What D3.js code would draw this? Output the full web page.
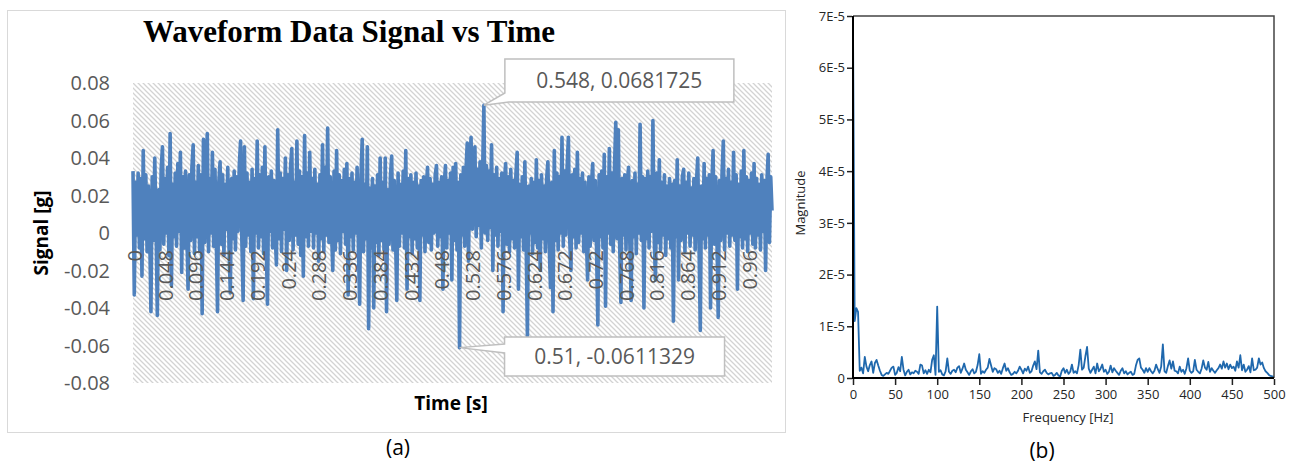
<!DOCTYPE html>
<html>
<head>
<meta charset="utf-8">
<script src="https://cdnjs.cloudflare.com/ajax/libs/d3/7.8.5/d3.min.js"></script>
<style>
  body { margin: 0; background: #fff; }
  svg { display: block; }
</style>
</head>
<body>
<div id="figure"></div>
<script>
// (a) waveform, one value every 2 ms, in milli-g
var sampleStep = 0.002;
var signalMilliG = [
  33,-33,27,-1,32,-8,29,-23,44,-3,31,-10,25,2,-42,30,-4,40,4,-44,
  23,-9,34,46,-6,29,0,35,-12,53,-28,26,-2,32,-7,37,1,43,-21,30,
  -8,33,3,-30,31,-4,35,47,-11,27,-2,36,-9,31,-43,50,-5,32,53,-10,
  29,0,43,-7,34,-1,-42,27,38,-6,31,-12,26,2,35,-8,-32,29,-3,33,
  -9,30,1,36,49,-4,-36,46,-7,32,-1,27,-10,34,-35,29,0,49,-8,31,
  -2,35,-11,46,-5,-38,30,1,33,-8,28,0,-17,55,-3,32,-10,29,2,40,
  -20,31,-4,35,45,-9,27,-1,49,-6,33,-12,30,-23,52,-2,32,-7,43,1,
  29,-8,34,0,26,-15,31,-3,47,-10,35,-1,56,-5,30,2,-20,33,-9,44,
  -4,31,-11,28,1,34,-6,37,-33,29,-2,32,-9,27,0,35,-7,-38,30,50,
  -10,26,-3,46,-51,24,-8,29,-40,25,-5,31,-12,40,-4,27,-9,40,-42,23,
  -6,30,41,-9,28,-1,-36,32,-7,26,0,33,-8,44,-30,29,-2,31,-11,27,
  -3,32,-8,25,-36,28,-1,30,-10,24,35,-5,29,-9,26,0,31,36,-7,27,
  -2,30,-30,25,36,-8,28,0,32,-25,35,-4,37,-9,27,-61.1329,31,-1,35,-7,
  33,48,-15,35,51,2,37,46,-2,34,4,38,-8,32,68.1725,0,36,-4,33,3,
  47,-20,31,-1,35,-7,29,1,32,-42,27,37,-6,30,-10,34,-3,28,-8,31,
  43,-30,26,-2,30,-9,38,-4,-55,25,0,29,-11,27,-5,39,-8,28,-20,31,
  -3,25,-10,29,38,-6,-29,27,-42,44,-4,32,-9,30,0,51,-7,33,-1,35,
  51,-3,-20,31,-2,34,-8,43,-5,29,0,32,-10,27,-1,-25,30,-7,26,37,
  -4,28,-9,-49,31,-2,33,-8,42,-39,30,0,45,-6,32,-10,35,59,-3,55,
  -5,-37,29,-1,31,-9,27,35,-6,-36,28,-2,32,-11,26,0,58,-4,30,-40,
  29,-3,33,-8,30,1,60,-2,-25,32,-5,39,-9,27,-1,31,-12,25,-3,29,
  -8,26,-47,28,-2,39,-25,25,-4,30,34,-10,27,0,32,-7,24,-1,29,-9,
  27,40,-5,-52,25,-3,37,-8,29,-1,31,-40,26,44,-6,30,-2,-45,28,-4,
  32,49,-9,29,0,34,-7,27,-1,43,-4,31,-30,26,-2,33,-8,44,-3,30,
  -10,28,0,32,-6,37,-8,29,-1,26,-9,31,1,28,-20,27,42,-5,30,12
];
var timeTicks = [0,0.048,0.096,0.144,0.192,0.24,0.288,0.336,0.384,0.432,0.48,
                 0.528,0.576,0.624,0.672,0.72,0.768,0.816,0.864,0.912,0.96];
var signalTicks = [-0.08,-0.06,-0.04,-0.02,0,0.02,0.04,0.06,0.08];

// (b) spectrum, one value every 2 Hz, in units of 1E-6
var freqStep = 2;
var magnitudeE6 = [
  68.2,11.0,13.5,12.8,1.4,2.0,0.9,4.1,2.2,1.3,
  2.5,3.2,1.0,2.9,3.5,2.4,1.4,0.6,0.4,0.7,
  1.0,0.8,1.4,2.0,2.2,0.6,1.0,2.1,1.3,4.1,
  1.6,0.5,1.2,1.6,0.7,1.1,0.9,1.4,1.2,0.8,
  2.6,2.4,0.9,1.5,0.8,1.6,1.1,3.5,4.4,0.6,
  13.8,1.2,1.5,0.7,0.5,1.3,3.8,1.2,0.8,1.4,
  1.6,1.1,2.0,2.3,1.0,1.8,2.8,1.6,1.1,0.6,
  1.3,1.7,0.9,1.2,2.5,4.6,0.8,1.3,1.0,1.6,
  2.0,3.7,2.4,1.2,1.9,1.7,1.0,1.4,0.8,1.9,
  2.8,1.4,1.9,1.1,0.6,0.8,1.2,0.9,1.4,2.2,
  1.6,0.9,1.8,1.4,2.2,1.0,1.3,2.4,3.2,1.7,
  5.3,1.1,0.8,1.3,1.6,1.0,0.7,0.9,1.0,0.4,
  0.6,1.0,0.5,0.3,1.4,1.9,1.0,1.6,0.8,1.2,
  2.6,1.0,1.3,0.9,2.5,5.5,1.6,2.0,4.2,6.0,
  1.8,1.0,1.6,2.2,0.9,2.8,1.3,1.8,2.6,1.2,
  1.6,0.8,1.2,2.4,1.1,1.9,1.4,1.0,0.6,1.4,
  1.9,0.9,1.3,0.7,1.0,1.2,0.6,0.8,2.4,3.5,
  3.8,2.0,1.6,1.0,1.9,1.2,1.9,1.3,0.9,1.4,
  2.6,1.7,1.0,2.2,6.5,1.3,1.0,2.3,3.4,1.8,
  3.2,1.4,1.3,0.9,2.2,1.2,1.6,0.8,1.9,3.8,
  1.4,1.0,1.3,3.5,1.6,1.2,0.9,1.8,3.4,2.0,
  1.6,3.1,1.2,1.9,1.4,1.0,1.5,1.9,2.6,1.8,
  3.2,2.0,2.8,1.7,2.6,1.9,2.2,1.4,3.2,2.0,
  4.4,1.5,2.6,1.2,1.6,2.3,1.1,3.8,1.5,1.6,
  2.0,3.8,2.6,3.0,1.9,1.3,1.0,0.6,0.4,0.3,
  0.2
];
var freqTicks = [0,50,100,150,200,250,300,350,400,450,500];
var magnitudeTicks = [0,1e-5,2e-5,3e-5,4e-5,5e-5,6e-5,7e-5];
var magnitudeTickLabels = ["0","1E-5","2E-5","3E-5","4E-5","5E-5","6E-5","7E-5"];

var width = 1292, height = 464;
var greyText = '#595959';

var svg = d3.select('#figure').append('svg')
    .attr('width', width)
    .attr('height', height);

svg.append('rect')
   .attr('width', width).attr('height', height)
   .style('fill', '#fff');

draw_waveform();
draw_spectrum();

function draw_waveform(){
    var g = svg.append('g');
    var signal = signalMilliG.map(function(v, i){ return {t: i * sampleStep, v: v / 1000, i: i}; });

    var xScale = d3.scaleLinear()
        .domain([0, (signal.length - 1) * sampleStep])
        .range([133, 772]);
    var yScale = d3.scaleLinear()
        .domain([-0.08, 0.08])
        .range([383, 83]);

    // chart frame
    g.append('rect')
     .attr('x', 7.5).attr('y', 10.5)
     .attr('width', 778).attr('height', 422)
     .style('fill', '#fff')
     .style('stroke', '#d9d9d9');

    var pattern = svg.append('defs').append('pattern')
        .attr('id', 'hatch')
        .attr('patternUnits', 'userSpaceOnUse')
        .attr('width', 5).attr('height', 5);
    pattern.append('path')
        .attr('d', 'M0,0 L5,5 M-1,4 L1,6 M4,-1 L6,1')
        .style('stroke', '#d3d3d3')
        .style('stroke-width', 1.3);

    g.append('rect')
     .attr('x', xScale.range()[0])
     .attr('y', yScale(0.08))
     .attr('width', xScale.range()[1] - xScale.range()[0])
     .attr('height', yScale(-0.08) - yScale(0.08))
     .style('fill', 'url(#hatch)');

    var line = d3.line()
        .x(function(d){ return xScale(d.t); })
        .y(function(d){ return yScale(d.v); });

    g.append('path')
     .datum(signal)
     .attr('d', line)
     .style('fill', 'none')
     .style('stroke', '#4f81bd')
     .style('stroke-width', 3.6)
     .style('stroke-linejoin', 'round');

    // y tick labels
    g.selectAll('.ylab').data(signalTicks).enter().append('text')
     .attr('x', 110)
     .attr('y', function(d){ return yScale(d); })
     .attr('dy', '0.35em')
     .attr('text-anchor', 'end')
     .style('font-family', 'Open Sans')
     .style('font-size', '20px')
     .style('fill', greyText)
     .text(function(d){ return d === 0 ? '0' : d.toFixed(2); });

    // x tick labels, rotated, hung from the zero line
    g.selectAll('.xlab').data(timeTicks).enter().append('text')
     .attr('transform', function(d){ return 'translate(' + (xScale(d) + 2) + ',250) rotate(-90)'; })
     .attr('dy', '0.35em')
     .attr('text-anchor', 'end')
     .style('font-family', 'Open Sans')
     .style('font-size', '20px')
     .style('fill', greyText)
     .text(function(d){ return String(d); });

    g.append('text')
     .attr('x', 349).attr('y', 42)
     .attr('text-anchor', 'middle')
     .style('font-family', 'Liberation Serif')
     .style('font-weight', 'bold')
     .style('font-size', '31px')
     .style('fill', '#000')
     .text('Waveform Data Signal vs Time');

    g.append('text')
     .attr('transform', 'translate(48,233) rotate(-90)')
     .attr('text-anchor', 'middle')
     .style('font-family', 'Open Sans')
     .style('font-weight', 'bold')
     .style('font-size', '19px')
     .text('Signal [g]');

    g.append('text')
     .attr('x', 451).attr('y', 410)
     .attr('text-anchor', 'middle')
     .style('font-family', 'Open Sans')
     .style('font-weight', 'bold')
     .style('font-size', '19px')
     .text('Time [s]');

    // data callouts on the extremes
    var top = d3.greatest(signal, function(d){ return d.v; });
    var bottom = d3.least(signal, function(d){ return d.v; });

    var tx = xScale(top.t), ty = yScale(top.v);
    var bx = tx + 21;
    g.append('path')
     .attr('d', 'M' + bx + ',59 H' + (bx + 229) + ' V102 H' + (bx + 4) + ' L' + tx + ',' + ty + ' L' + bx + ',93 Z')
     .style('fill', '#fff')
     .style('stroke', '#bfbfbf')
     .style('stroke-width', 1.5);
    g.append('text')
     .attr('x', bx + 114.5).attr('y', 80.5)
     .attr('dy', '0.35em')
     .attr('text-anchor', 'middle')
     .style('font-family', 'Open Sans')
     .style('font-size', '21px')
     .style('fill', greyText)
     .text(callout_text(top));

    tx = xScale(bottom.t); ty = yScale(bottom.v);
    bx = tx + 45;
    g.append('path')
     .attr('d', 'M' + bx + ',337 H' + (bx + 220) + ' V376 H' + bx + ' V353 L' + tx + ',' + ty + ' L' + bx + ',344 Z')
     .style('fill', '#fff')
     .style('stroke', '#bfbfbf')
     .style('stroke-width', 1.5);
    g.append('text')
     .attr('x', bx + 110).attr('y', 356.5)
     .attr('dy', '0.35em')
     .attr('text-anchor', 'middle')
     .style('font-family', 'Open Sans')
     .style('font-size', '21px')
     .style('fill', greyText)
     .text(callout_text(bottom));

    g.append('text')
     .attr('x', 398).attr('y', 455)
     .attr('text-anchor', 'middle')
     .style('font-family', 'Open Sans')
     .style('font-size', '21px')
     .text('(a)');
}

function callout_text(d){
    return (+d.t.toFixed(3)) + ', ' + (+d.v.toPrecision(6));
}

function draw_spectrum(){
    var g = svg.append('g');
    var spectrum = magnitudeE6.map(function(v, i){ return {f: i * freqStep, m: v * 1e-6}; });

    var fScale = d3.scaleLinear().domain([0, 500]).range([853, 1274]);
    var mScale = d3.scaleLinear().domain([0, 7e-5]).range([378, 16]);

    var line = d3.line()
        .x(function(d){ return fScale(d.f); })
        .y(function(d){ return mScale(d.m); });

    g.append('path')
     .datum(spectrum)
     .attr('d', line)
     .style('fill', 'none')
     .style('stroke', '#1f68ad')
     .style('stroke-width', 1.8)
     .style('stroke-linejoin', 'round');

    // frame: top and right lighter, axes black
    g.append('path')
     .attr('d', 'M' + fScale(0) + ',' + mScale(7e-5) + ' H' + fScale(500) + ' V' + mScale(0))
     .style('fill', 'none')
     .style('stroke', '#444')
     .style('stroke-width', 1.5);
    g.append('path')
     .attr('d', 'M' + fScale(0) + ',' + mScale(7e-5) + ' V' + mScale(0) + ' H' + fScale(500))
     .style('fill', 'none')
     .style('stroke', '#000')
     .style('stroke-width', 2);

    var yAxis = d3.axisLeft(mScale)
        .tickValues(magnitudeTicks)
        .tickFormat(function(d, i){ return magnitudeTickLabels[i]; })
        .tickSize(5)
        .tickPadding(2);
    var xAxis = d3.axisBottom(fScale)
        .tickValues(freqTicks)
        .tickSize(6)
        .tickPadding(5);

    var ya = g.append('g').attr('transform', 'translate(' + (fScale(0) - 1) + ',0)').call(yAxis);
    var xa = g.append('g').attr('transform', 'translate(0,' + (mScale(0) + 1) + ')').call(xAxis);
    [ya, xa].forEach(function(a){
        a.select('.domain').remove();
        a.selectAll('line').style('stroke', '#222').style('stroke-width', 1.5);
        a.selectAll('text')
         .style('font-family', 'Open Sans')
         .style('font-size', '13px')
         .style('fill', '#262626');
    });

    g.append('text')
     .attr('x', 1068).attr('y', 422)
     .attr('text-anchor', 'middle')
     .style('font-family', 'Open Sans')
     .style('font-size', '13px')
     .style('fill', '#262626')
     .text('Frequency [Hz]');

    g.append('text')
     .attr('transform', 'translate(805,203) rotate(-90)')
     .attr('text-anchor', 'middle')
     .style('font-family', 'Open Sans')
     .style('font-size', '13px')
     .style('fill', '#262626')
     .text('Magnitude');

    g.append('text')
     .attr('x', 1042).attr('y', 458)
     .attr('text-anchor', 'middle')
     .style('font-family', 'Open Sans')
     .style('font-size', '21px')
     .text('(b)');
}
</script>
</body>
</html>
